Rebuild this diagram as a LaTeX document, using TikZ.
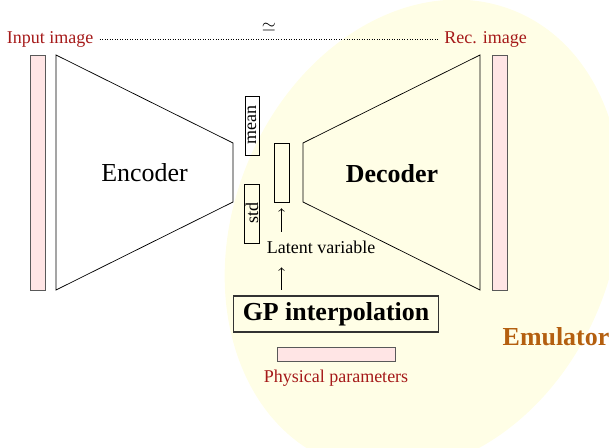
\documentclass[tikz,border=0pt]{standalone}
\usepackage{fontspec}
\setmainfont{Liberation Serif}
\usetikzlibrary{positioning}
\definecolor{imgred}{RGB}{165,25,25}
\definecolor{emuorange}{RGB}{180,95,15}
\begin{document}
\begin{tikzpicture}[x=0.5556pt,y=0.5556pt,
  bar/.style={draw=black!65,fill=red!10,inner sep=0pt},
  slot/.style={draw,inner sep=0.5pt,rotate=90,minimum width=32.8pt,minimum height=7.8pt},
  tag/.style={text=imgred}]
  \useasboundingbox (0,0) rectangle (609,448);
  % emulator region
  \fill[yellow!10,rotate around={68:(423,212)}] (423,212) ellipse (243 and 190);
  % images
  \node[bar,minimum width=8.3pt,minimum height=130.6pt] (inimg) at (37.5,275.5) {};
  \node[bar,minimum width=8.3pt,minimum height=130.6pt] (recimg) at (499.5,275.5) {};
  \node[tag,anchor=base] (inlbl) at (50,404.7) {Input image};
  \node[tag,anchor=base] (reclbl) at (485.5,404.7) {Rec. image};
  \draw[densely dotted] (inlbl) -- (reclbl) node[midway,above=1pt] (sim) {$\simeq$};
  % encoder and decoder
  \draw (56,393) -- (233,305) -- (233,246) -- (56,158) -- cycle;
  \node (enc) at (144.5,275) {\Large Encoder};
  \draw (303,305) -- (480,393) -- (480,158) -- (303,246) -- cycle;
  \node (dec) at (392,274) {\Large\bfseries Decoder};
  % latent space
  \node[slot] (mean) at (252,322.5) {mean};
  \node[slot] (std) at (252,234.5) {std};
  \node[draw,inner sep=0pt,minimum width=8.3pt,minimum height=32.8pt] (z) at (281.5,275.5) {};
  \node (zlbl) at (321,201) {Latent variable};
  \node[draw=black!80,fill=yellow!10,line width=0.6pt,minimum width=114.4pt,minimum height=20pt,inner sep=0pt]
    (gp) at (336,134) {\Large\bfseries GP interpolation};
  \node[bar,minimum width=65.6pt,minimum height=7.8pt] (phys) at (336,94) {};
  \node[tag,below=1.5pt of phys] (physlbl) {Physical parameters};
  \node[text=emuorange,inner sep=0pt] (emu) at (556,111) {\Large\bfseries Emulator};
  \draw[->,shorten <=1.5pt,shorten >=3.3pt] (zlbl.north -| z) -- (z.south);
  \draw[->,shorten <=3.3pt,shorten >=4.3pt] (gp.north -| z) -- (zlbl.south -| z);
\end{tikzpicture}
\end{document}
